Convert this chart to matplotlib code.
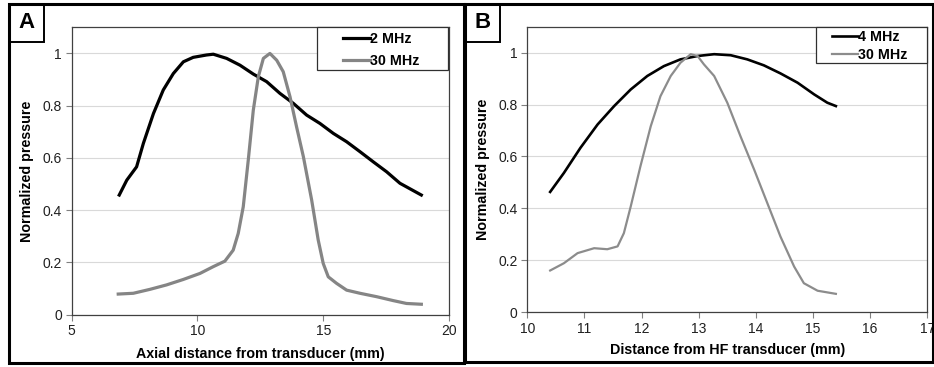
import matplotlib
matplotlib.use("Agg")
import matplotlib.pyplot as plt
from matplotlib.patches import Rectangle

plt.rcParams['font.family'] = ['Liberation Sans', 'DejaVu Sans']

# Panel A data
a2_x = [6.89, 7.19, 7.58, 7.85, 8.25, 8.64, 9.04, 9.44, 9.83, 10.36, 10.63, 11.16, 11.69,
        12.22, 12.75, 13.28, 13.81, 14.34, 14.87, 15.4, 15.93, 16.46, 16.99, 17.52, 18.05, 18.9]
a2_y = [0.458, 0.515, 0.566, 0.656, 0.77, 0.86, 0.923, 0.968, 0.985, 0.994, 0.997, 0.981, 0.955,
        0.921, 0.892, 0.847, 0.809, 0.764, 0.732, 0.694, 0.662, 0.624, 0.585, 0.547, 0.503, 0.458]
a30_x = [6.85, 7.45, 8.11, 8.77, 9.44, 10.1, 10.63, 11.09, 11.42, 11.62, 11.82, 12.02, 12.22,
         12.42, 12.62, 12.88, 13.15, 13.41, 13.68, 13.94, 14.21, 14.54, 14.8, 15.0, 15.2, 15.53,
         15.93, 16.46, 17.12, 17.78, 18.31, 18.9]
a30_y = [0.079, 0.082, 0.097, 0.114, 0.135, 0.158, 0.184, 0.205, 0.247, 0.311, 0.413, 0.592, 0.783,
         0.911, 0.981, 1.0, 0.974, 0.93, 0.834, 0.719, 0.605, 0.439, 0.286, 0.196, 0.145, 0.12,
         0.094, 0.082, 0.069, 0.054, 0.043, 0.040]

# Panel B data
b4_x = [10.4, 10.64, 10.93, 11.23, 11.52, 11.81, 12.1, 12.39, 12.68, 12.98, 13.27, 13.56, 13.85,
        14.14, 14.43, 14.73, 15.02, 15.25, 15.4]
b4_y = [0.463, 0.536, 0.633, 0.723, 0.794, 0.858, 0.91, 0.948, 0.974, 0.987, 0.994, 0.99, 0.974,
        0.951, 0.92, 0.884, 0.839, 0.807, 0.794]
b30_x = [10.4, 10.64, 10.88, 11.17, 11.4, 11.58, 11.69, 11.81, 11.98, 12.16, 12.33, 12.51, 12.68,
         12.86, 12.98, 13.09, 13.27, 13.5, 13.73, 13.97, 14.2, 14.43, 14.67, 14.84, 15.08, 15.4]
b30_y = [0.16, 0.188, 0.227, 0.246, 0.242, 0.253, 0.304, 0.407, 0.562, 0.716, 0.832, 0.91, 0.961,
         0.994, 0.987, 0.955, 0.91, 0.807, 0.678, 0.549, 0.42, 0.291, 0.175, 0.111, 0.082, 0.07]

a_xticks = [5, 10, 15, 20]
b_xticks = [10, 11, 12, 13, 14, 15, 16, 17]
yticks = [0, 0.2, 0.4, 0.6, 0.8, 1.0]
ytick_labels = ['0', '0.2', '0.4', '0.6', '0.8', '1']

W, H = 934, 367
fig = plt.figure(figsize=(W / 100, H / 100), dpi=100)
FS_LABEL = 10.3
FS_TICK = 10

def fx(px):
    return px / W

def fy(py):
    return 1 - py / H

def style(ax, xlim, xticks, xlabel, xpad):
    ax.set_xlim(*xlim)
    ax.set_ylim(0, 1.1)
    ax.set_xticks(xticks)
    ax.set_xticklabels([str(t) for t in xticks])
    ax.set_yticks(yticks)
    ax.set_yticklabels(ytick_labels)
    ax.yaxis.grid(True, color='#d9d9d9', linewidth=0.8)
    ax.set_axisbelow(True)
    for s in ax.spines.values():
        s.set_color('#404040')
        s.set_linewidth(0.9)
    ax.tick_params(axis='both', direction='out', length=4, width=0.8, color='#808080',
                   labelsize=FS_TICK, labelcolor='#202020', pad=3)
    ax.set_xlabel(xlabel, fontsize=FS_LABEL, fontweight='bold', labelpad=xpad)
    ax.set_ylabel('Normalized pressure', fontsize=FS_LABEL, fontweight='bold', labelpad=6)

def add_legend(ax, box_px, handle_x_px, top_line_px, spacing, handle_len):
    # box_px: (x0, y0, x1, y1) in figure pixels (top-left origin)
    x0, y0, x1, y1 = box_px
    r = Rectangle((fx(x0), fy(y1)), fx(x1 - x0), (y1 - y0) / H, transform=fig.transFigure,
                  facecolor='white', edgecolor='#303030', linewidth=0.9, zorder=4.5,
                  clip_on=False)
    ax.add_patch(r)
    fs_px = FS_LABEL * 100 / 72
    top_px = top_line_px - 0.6 * fs_px
    leg = ax.legend(loc='upper left', bbox_to_anchor=(fx(handle_x_px), fy(top_px)),
                    bbox_transform=fig.transFigure, frameon=False,
                    handlelength=handle_len, handletextpad=0.0, borderpad=0.0,
                    labelspacing=spacing, borderaxespad=0.0,
                    prop={'weight': 'bold', 'size': FS_LABEL})
    leg.set_zorder(6)
    return leg

# Axes A
axA = fig.add_axes([fx(71.7), fy(314.7), fx(449 - 71.7), (314.7 - 27.3) / H])
axA.plot(a2_x, a2_y, color='black', linewidth=2.3, label='2 MHz')
axA.plot(a30_x, a30_y, color='#858585', linewidth=2.3, label='30 MHz')
style(axA, (5, 20), a_xticks, 'Axial distance from transducer (mm)', 6)
add_legend(axA, (317, 27, 448, 70), 343, 41, 0.5, 1.9)

# Axes B
axB = fig.add_axes([fx(527.3), fy(312), fx(927.3 - 527.3), (312 - 26.7) / H])
axB.plot(b4_x, b4_y, color='black', linewidth=1.9, label='4 MHz')
axB.plot(b30_x, b30_y, color='#8c8c8c', linewidth=1.6, label='30 MHz')
style(axB, (10, 17), b_xticks, 'Distance from HF transducer (mm)', 5)
add_legend(axB, (816, 27, 927, 63), 832, 39, 0.25, 1.8)

# Panel frames and letter boxes
def rect(x0, y0, x1, y1, lw):
    r = Rectangle((fx(x0), fy(y1)), fx(x1 - x0), (y1 - y0) / H, transform=fig.transFigure,
                  fill=False, edgecolor='black', linewidth=lw, zorder=10)
    fig.patches.append(r)

rect(9, 4, 464, 363, 2.2)
rect(465, 4, 933, 362, 2.2)
rect(9, 4, 44, 42, 1.4)
rect(465, 4, 500, 42, 1.4)
fig.text(fx(26.5), fy(23), 'A', fontsize=16, fontweight='bold', ha='center', va='center')
fig.text(fx(482.5), fy(23), 'B', fontsize=16, fontweight='bold', ha='center', va='center')

fig.savefig('out.png', dpi=100)
